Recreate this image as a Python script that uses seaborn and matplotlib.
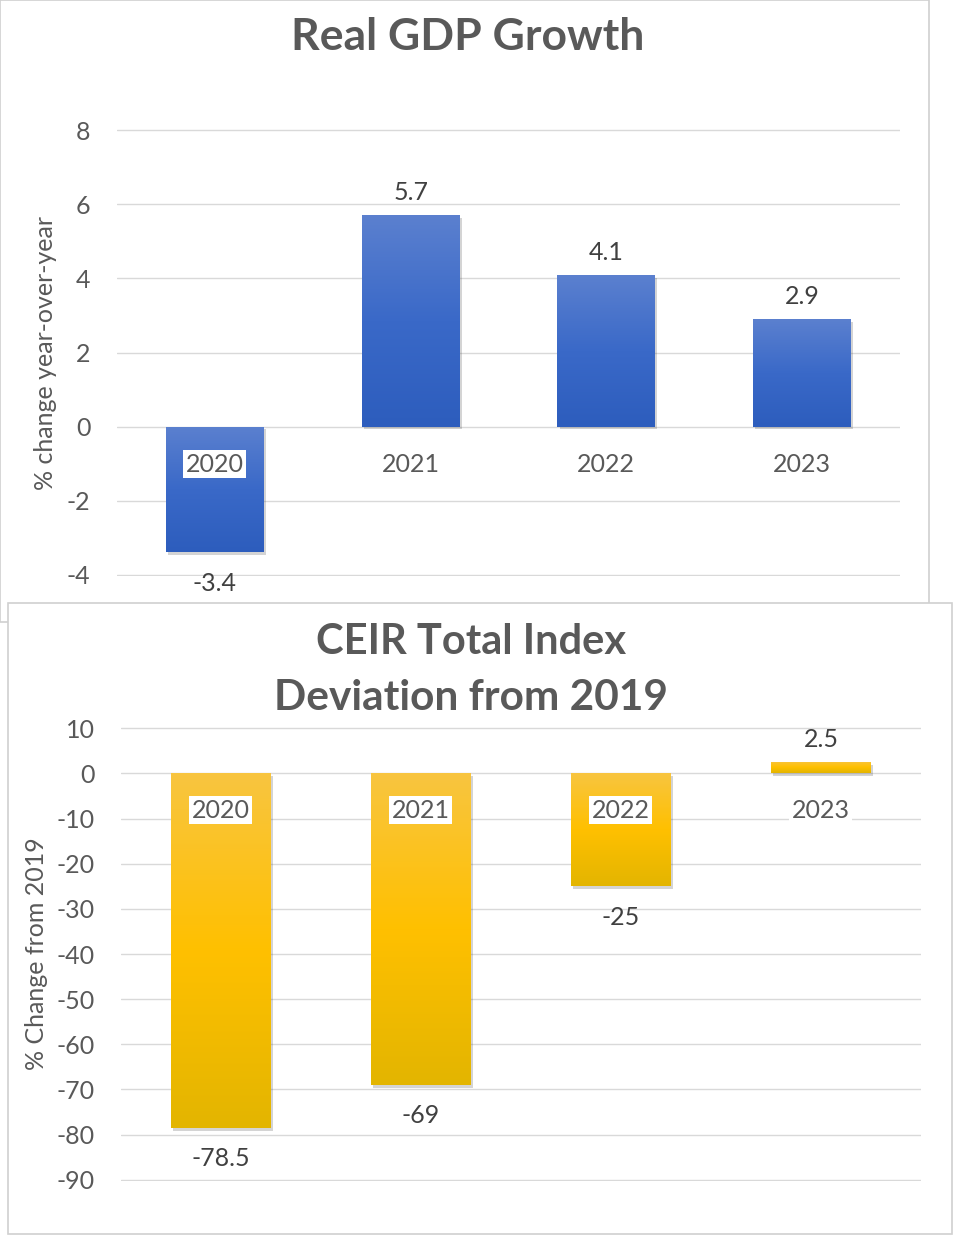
import numpy as np
import matplotlib.pyplot as plt
import seaborn as sns
import matplotlib.patheffects as pe
from matplotlib.patches import Rectangle
from matplotlib.colors import LinearSegmentedColormap

# data
years = ["2020", "2021", "2022", "2023"]
gdp_growth = [-3.4, 5.7, 4.1, 2.9]
ceir_dev = [-78.5, -69, -25, 2.5]

gdp_ticks = [-4, -2, 0, 2, 4, 6, 8]
ceir_ticks = [-90, -80, -70, -60, -50, -40, -30, -20, -10, 0, 10]

sns.set_theme(style="white")
plt.rcParams["font.family"] = ["Lato", "DejaVu Sans"]

W, H = 954, 1236
fig = plt.figure(figsize=(W / 100, H / 100), dpi=100)


def box(x0, y0, x1, y1):
    # pixel box -> figure fraction
    return [x0 / W, 1 - y1 / H, (x1 - x0) / W, (y1 - y0) / H]


# panel frames (bottom one sits on top of the first)
fig.patches.append(Rectangle((0, 1 - 622 / H), 929 / W, 622 / H, transform=fig.transFigure,
                             facecolor="white", edgecolor="#D0D0D0", lw=1.2, zorder=-3))
fig.patches.append(Rectangle((8 / W, 1 - 1234 / H), 944 / W, (1234 - 603) / H, transform=fig.transFigure,
                             facecolor="white", edgecolor="#D0D0D0", lw=1.2, zorder=-2))

txt = "#595959"
FS = 18


def shade(ax, cmap):
    grad = np.linspace(1, 0, 256).reshape(-1, 1)
    for p in ax.patches:
        x, y = p.get_x(), p.get_y()
        w, h = p.get_width(), p.get_height()
        p.set_linewidth(0)
        p.set_path_effects([pe.SimplePatchShadow(offset=(1.5, -2), alpha=0.25, shadow_rgbFace="#555555"),
                            pe.Normal()])
        im = ax.imshow(grad, cmap=cmap, aspect="auto", extent=[x, x + w, min(y, y + h), max(y, y + h)],
                       zorder=p.get_zorder() + 0.1)
        im.set_clip_path(p)


def style(ax, values, ticks, ylabel, label_x, zero_off):
    ax.set_facecolor("none")
    sns.despine(ax=ax, left=True, bottom=True)
    span = ticks[-1] - ticks[0]
    ax.set_ylim(ticks[0] - span * 0.003, ticks[-1] + span * 0.003)
    ax.set_xlim(-0.5, len(years) - 0.5)
    ax.set_yticks(ticks)
    ax.set_yticklabels([str(t) for t in ticks])
    ax.tick_params(axis="y", length=0, pad=19, labelsize=FS, labelcolor=txt)
    ax.set_xticks([])
    ax.set_xlabel("")
    ax.yaxis.grid(True, color="#D9D9D9", lw=1)
    ax.set_axisbelow(True)
    ax.set_ylabel(ylabel, fontsize=FS, color=txt)
    ax.yaxis.set_label_coords(label_x, 0.5)
    for i, yr in enumerate(years):
        ax.annotate(yr, (i, 0), xytext=(0, zero_off), textcoords="offset points",
                    ha="center", va="center", fontsize=FS, color=txt, zorder=5,
                    bbox=dict(boxstyle="square,pad=0.1", fc="white", ec="none"))
    for i, v in enumerate(values):
        ax.annotate(f"{v:g}", (i, v), xytext=(0, 8 if v > 0 else -14), textcoords="offset points",
                    ha="center", va="bottom" if v > 0 else "top", fontsize=FS, color="#404040")


# ---- Real GDP Growth ----
ax1 = fig.add_axes(box(117, 129, 900, 576))
sns.barplot(x=years, y=gdp_growth, color="#4472C4", width=0.5, ax=ax1, saturation=1)
style(ax1, gdp_growth, gdp_ticks, "% change year-over-year", -0.077, -27)
shade(ax1, LinearSegmentedColormap.from_list("blu", ["#2D5DBD", "#3A69C8", "#5B80CF"]))
fig.text(468 / W, 1 - 37 / H, "Real GDP Growth", ha="center", va="center",
         fontsize=32, fontweight="bold", color=txt)

# ---- CEIR Total Index ----
ax2 = fig.add_axes(box(121, 727, 921, 1181))
sns.barplot(x=years, y=ceir_dev, color="#FFC000", width=0.5, ax=ax2, saturation=1)
style(ax2, ceir_dev, ceir_ticks, "% Change from 2019", -0.091, -26.5)
shade(ax2, LinearSegmentedColormap.from_list("gld", ["#E3B500", "#FFC000", "#F8C540"]))
fig.text(471 / W, 1 - 642 / H, "CEIR Total Index", ha="center", va="center",
         fontsize=30, fontweight="bold", color=txt)
fig.text(471 / W, 1 - 698 / H, "Deviation from 2019", ha="center", va="center",
         fontsize=30.5, fontweight="bold", color=txt)

fig.savefig("out.png", dpi=100)
